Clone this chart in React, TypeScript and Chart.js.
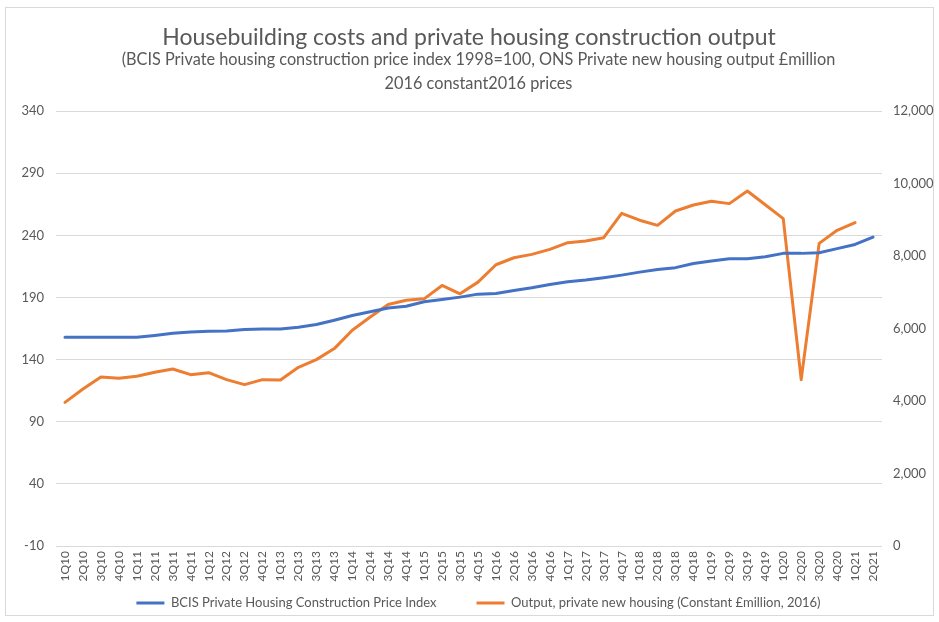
import React, { useEffect, useRef } from "react";
import { Chart, registerables } from "chart.js";

Chart.register(...registerables);

const quarters = [
  "1Q10", "2Q10", "3Q10", "4Q10", "1Q11", "2Q11", "3Q11", "4Q11",
  "1Q12", "2Q12", "3Q12", "4Q12", "1Q13", "2Q13", "3Q13", "4Q13",
  "1Q14", "2Q14", "3Q14", "4Q14", "1Q15", "2Q15", "3Q15", "4Q15",
  "1Q16", "2Q16", "3Q16", "4Q16", "1Q17", "2Q17", "3Q17", "4Q17",
  "1Q18", "2Q18", "3Q18", "4Q18", "1Q19", "2Q19", "3Q19", "4Q19",
  "1Q20", "2Q20", "3Q20", "4Q20", "1Q21", "2Q21",
];

const bcisIndex = [
  158, 158, 158, 158, 158, 159.5, 161.2, 162.3,
  162.8, 163, 164.2, 164.7, 164.7, 166, 168.2, 171.7,
  175.5, 178.5, 181.5, 183, 186.6, 188.4, 190.3, 192.7,
  193.2, 195.6, 197.8, 200.5, 202.7, 204, 205.9, 208,
  210.4, 212.6, 214, 217.4, 219.3, 221.2, 221.2, 222.8,
  225.5, 225.5, 226, 229.3, 232.7, 238.6,
];

const housingOutput = [
  3963, 4332, 4664, 4627, 4682, 4793, 4885, 4728,
  4783, 4590, 4452, 4590, 4582, 4931, 5143, 5447,
  5954, 6320, 6664, 6783, 6820, 7189, 6959, 7281,
  7760, 7954, 8046, 8184, 8369, 8414, 8507, 9180,
  8990, 8848, 9244, 9410, 9512, 9447, 9797, 9415,
  9033, 4590, 8350, 8710, 8923, null,
];

const titleText = "Housebuilding costs and private housing construction output";
const subtitleLines = [
  "(BCIS Private housing construction price index 1998=100, ONS Private new housing output £million",
  "2016 constant2016 prices",
];
const seriesNames = [
  "BCIS Private Housing Construction Price Index",
  "Output, private new housing (Constant £million, 2016)",
];

const FONT = "Lato, 'Open Sans', sans-serif";
const TEXT = "#595959";
const GRID = "#d9d9d9";
const BLUE = "#4472C4";
const ORANGE = "#ED7D31";

const borderPlugin = {
  id: "outerBorder",
  beforeDraw(chart: any) {
    const ctx = chart.ctx;
    ctx.save();
    ctx.fillStyle = "#ffffff";
    ctx.fillRect(0, 0, chart.width, chart.height);
    ctx.strokeStyle = GRID;
    ctx.lineWidth = 1;
    ctx.strokeRect(5.5, 7.5, 928, 608);
    ctx.restore();
  },
};

export default function App() {
  const ref = useRef<HTMLCanvasElement | null>(null);

  useEffect(() => {
    document.body.style.margin = "0";
    if (!ref.current) return;
    const chart = new Chart(ref.current, {
      type: "line",
      data: {
        labels: quarters,
        datasets: [
          {
            label: seriesNames[0],
            data: bcisIndex,
            borderColor: BLUE,
            backgroundColor: BLUE,
            borderWidth: 3,
            pointRadius: 0,
            tension: 0,
            yAxisID: "y",
            borderJoinStyle: "round",
            borderCapStyle: "round",
          },
          {
            label: seriesNames[1],
            data: housingOutput,
            borderColor: ORANGE,
            backgroundColor: ORANGE,
            borderWidth: 3,
            pointRadius: 0,
            tension: 0,
            yAxisID: "y1",
            borderJoinStyle: "round",
            borderCapStyle: "round",
          },
        ],
      },
      options: {
        responsive: false,
        animation: false,
        layout: { padding: { top: 0, bottom: 2.5, left: 18, right: 0 } },
        plugins: {
          title: {
            display: true,
            fullSize: false,
            text: titleText,
            color: TEXT,
            font: { family: FONT, size: 23, weight: "normal", lineHeight: 0.9 },
            padding: { top: 27.2, bottom: 0 },
          },
          subtitle: {
            display: true,
            fullSize: true,
            text: subtitleLines,
            color: TEXT,
            font: { family: FONT, size: 16.3, weight: "normal", lineHeight: 24 / 16.3 },
            padding: { top: 0, bottom: 15.2 },
          },
          legend: {
            position: "bottom",
            labels: {
              color: TEXT,
              font: { family: FONT, size: 13 },
              boxWidth: 28,
              boxHeight: 3,
              padding: 40,
              generateLabels(chart: any) {
                const items = Chart.defaults.plugins.legend.labels.generateLabels(chart);
                return items.map((it: any) => ({ ...it, lineWidth: 0 }));
              },
            },
          },
          tooltip: { enabled: false },
        },
        scales: {
          x: {
            offset: true,
            grid: { display: false, drawTicks: false },
            border: { display: false },
            ticks: {
              color: TEXT,
              font: { family: FONT, size: 12 },
              minRotation: 90,
              maxRotation: 90,
              autoSkip: false,
              padding: 5,
            },
            afterFit(scale: any) {
              scale.height = 10.5;
              scale._computeLabelArea = () => undefined;
            },
          },
          y: {
            position: "left",
            min: -10,
            max: 340,
            grid: { color: GRID, drawTicks: false },
            border: { display: false },
            ticks: {
              stepSize: 50,
              color: TEXT,
              font: { family: FONT, size: 13 },
              padding: 12,
            },
            afterFit(scale: any) {
              scale.width = 38;
            },
          },
          y1: {
            position: "right",
            min: 0,
            max: 12000,
            grid: { display: false, drawTicks: false },
            border: { display: false },
            ticks: {
              stepSize: 2000,
              color: TEXT,
              font: { family: FONT, size: 13 },
              padding: 11,
              callback: (v: any) => Number(v).toLocaleString("en-GB"),
            },
            afterFit(scale: any) {
              scale.width = 57;
            },
          },
        },
      },
      plugins: [borderPlugin],
    } as any);
    return () => chart.destroy();
  }, []);

  return <canvas ref={ref} width={939} height={622} style={{ display: "block" }} />;
}
